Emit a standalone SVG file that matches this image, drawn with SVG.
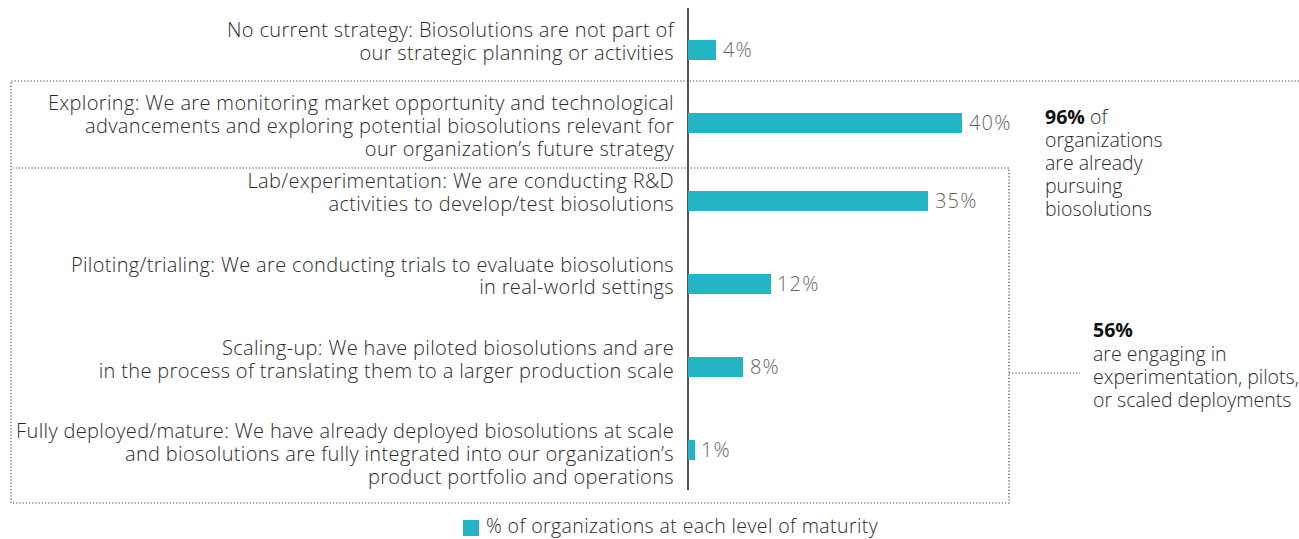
<svg xmlns="http://www.w3.org/2000/svg" width="1299" height="539" viewBox="0 0 1299 539">
<style>
.lbl{font-family:"Open Sans","Liberation Sans",sans-serif;font-weight:300;font-size:20px;letter-spacing:0.35px;fill:#2b2b2b;text-anchor:end}
.val{font-family:"Open Sans","Liberation Sans",sans-serif;font-weight:300;font-size:20px;letter-spacing:1.2px;fill:#666}
.note{font-family:"Open Sans","Liberation Sans",sans-serif;font-weight:300;font-size:19.5px;fill:#2b2b2b}
.leg{font-family:"Open Sans","Liberation Sans",sans-serif;font-weight:300;font-size:19.5px;letter-spacing:0.4px;fill:#2b2b2b}
.b{font-weight:700;fill:#111}
.bar{fill:#23b5c4}
.dot{fill:none;stroke:#444;stroke-width:1.2;stroke-dasharray:1.2 2}
</style>
<rect width="1299" height="539" fill="#fff"/>
<g id="connectors">
<path class="dot" d="M1299 81 H11 V503 H1009 V168 H11"/>
<path class="dot" d="M1009 373 H1080"/>
<line x1="688" y1="8" x2="688" y2="490" stroke="#555" stroke-width="2"/>
</g>
<g id="row-none">
<text class="lbl" x="674" y="37">No current strategy: Biosolutions are not part of</text>
<text class="lbl" x="674" y="60">our strategic planning or activities</text>
<rect class="bar" x="688" y="40" width="28" height="20"/>
<text class="val" x="723" y="57">4%</text>
</g>
<g id="row-exploring">
<text class="lbl" x="674" y="110">Exploring: We are monitoring market opportunity and technological</text>
<text class="lbl" x="674" y="133">advancements and exploring potential biosolutions relevant for</text>
<text class="lbl" x="674" y="156">our organization’s future strategy</text>
<rect class="bar" x="688" y="113" width="274" height="20"/>
<text class="val" x="969" y="130">40%</text>
</g>
<g id="row-lab">
<text class="lbl" x="674" y="188">Lab/experimentation: We are conducting R&amp;D</text>
<text class="lbl" x="674" y="211">activities to develop/test biosolutions</text>
<rect class="bar" x="688" y="191" width="240" height="20"/>
<text class="val" x="935" y="208">35%</text>
</g>
<g id="row-piloting">
<text class="lbl" x="674" y="272">Piloting/trialing: We are conducting trials to evaluate biosolutions</text>
<text class="lbl" x="674" y="294">in real-world settings</text>
<rect class="bar" x="688" y="274" width="83" height="20"/>
<text class="val" x="777" y="291">12%</text>
</g>
<g id="row-scaling">
<text class="lbl" x="674" y="355">Scaling-up: We have piloted biosolutions and are </text>
<text class="lbl" x="674" y="378">in the process of translating them to a larger production scale</text>
<rect class="bar" x="688" y="357" width="55" height="20"/>
<text class="val" x="750" y="374">8%</text>
</g>
<g id="row-deployed">
<text class="lbl" x="674" y="438">Fully deployed/mature: We have already deployed biosolutions at scale</text>
<text class="lbl" x="674" y="461">and biosolutions are fully integrated into our organization’s</text>
<text class="lbl" x="674" y="484">product portfolio and operations</text>
<rect class="bar" x="688" y="440" width="7" height="20"/>
<text class="val" x="701" y="457">1%</text>
</g>
<g id="note-96">
<text class="note" x="1045" y="124"><tspan class="b">96%</tspan> of</text>
<text class="note" x="1045" y="147">organizations</text>
<text class="note" x="1045" y="170">are already</text>
<text class="note" x="1045" y="193">pursuing</text>
<text class="note" x="1045" y="216">biosolutions</text>
</g>
<g id="note-56">
<text class="note b" x="1093" y="337">56%</text>
<text class="note" x="1093" y="361">are engaging in</text>
<text class="note" x="1093" y="384">experimentation, pilots,</text>
<text class="note" x="1093" y="407">or scaled deployments</text>
</g>
<g id="legend">
<rect class="bar" x="463" y="520" width="16" height="16"/>
<text class="leg" x="486" y="533">% of organizations at each level of maturity</text>
</g>
</svg>
